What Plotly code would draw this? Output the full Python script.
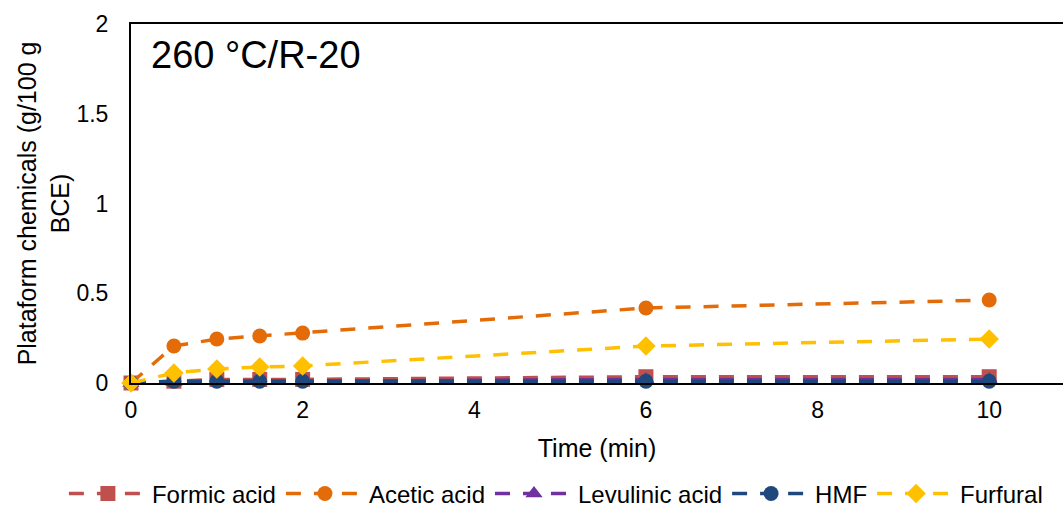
import plotly.graph_objects as go

time = [0, 0.5, 1, 1.5, 2, 6, 10]
formic = [0, 0.01, 0.02, 0.02, 0.02, 0.035, 0.035]
acetic = [0, 0.206, 0.245, 0.262, 0.278, 0.418, 0.462]
levulinic = [0, 0.005, 0.01, 0.01, 0.01, 0.02, 0.02]
hmf = [0, 0.01, 0.01, 0.01, 0.01, 0.01, 0.01]
furfural = [0, 0.056, 0.078, 0.089, 0.095, 0.206, 0.245]

series = [
    ("Formic acid", formic, "#C0504D", "square"),
    ("Acetic acid", acetic, "#E36C09", "circle"),
    ("Levulinic acid", levulinic, "#7030A0", "triangle-up"),
    ("HMF", hmf, "#1F497D", "circle"),
    ("Furfural", furfural, "#FFC000", "diamond"),
]

fig = go.Figure()
for name, vals, col, sym in series:
    fig.add_trace(go.Scatter(
        x=time, y=vals, name=name, mode="lines+markers",
        line=dict(color=col, width=3.5, dash="15px,13px"),
        marker=dict(color=col, symbol=sym, size=15),
        cliponaxis=False,
    ))

fig.add_annotation(text="260 °C/R-20", xref="paper", yref="paper", x=0.019, y=0.915,
                   xanchor="left", yanchor="middle", showarrow=False,
                   font=dict(size=38, color="black"))

fig.update_layout(
    width=1063, height=508,
    margin=dict(l=131, r=0, t=24, b=125, autoexpand=False),
    plot_bgcolor="white", paper_bgcolor="white",
    font=dict(family="Liberation Sans, Arial", size=23, color="black"),
    showlegend=True,
    legend=dict(orientation="h", x=-0.072, xanchor="left",
                y=-0.309, yanchor="middle",
                font=dict(size=24), itemwidth=78, tracegroupgap=0),
    xaxis=dict(range=[0, 10.86], tickvals=[0, 2, 4, 6, 8, 10], showgrid=False,
               zeroline=False, showline=True, linecolor="black", linewidth=2, mirror=True,
               ticks="", ticklabelstandoff=5, tickfont=dict(size=23),
               title=dict(text="Time (min)", font=dict(size=25), standoff=18)),
    yaxis=dict(range=[0, 2], tickvals=[0, 0.5, 1, 1.5, 2], ticktext=["0", "0.5", "1", "1.5", "2"],
               showgrid=False, zeroline=False, showline=True, linecolor="black", linewidth=2,
               ticks="", ticklabelstandoff=16, tickfont=dict(size=23),
               title=dict(text="Plataform chemicals (g/100 g<br>BCE)", font=dict(size=25), standoff=0)),
)

fig.write_html("out.html")
